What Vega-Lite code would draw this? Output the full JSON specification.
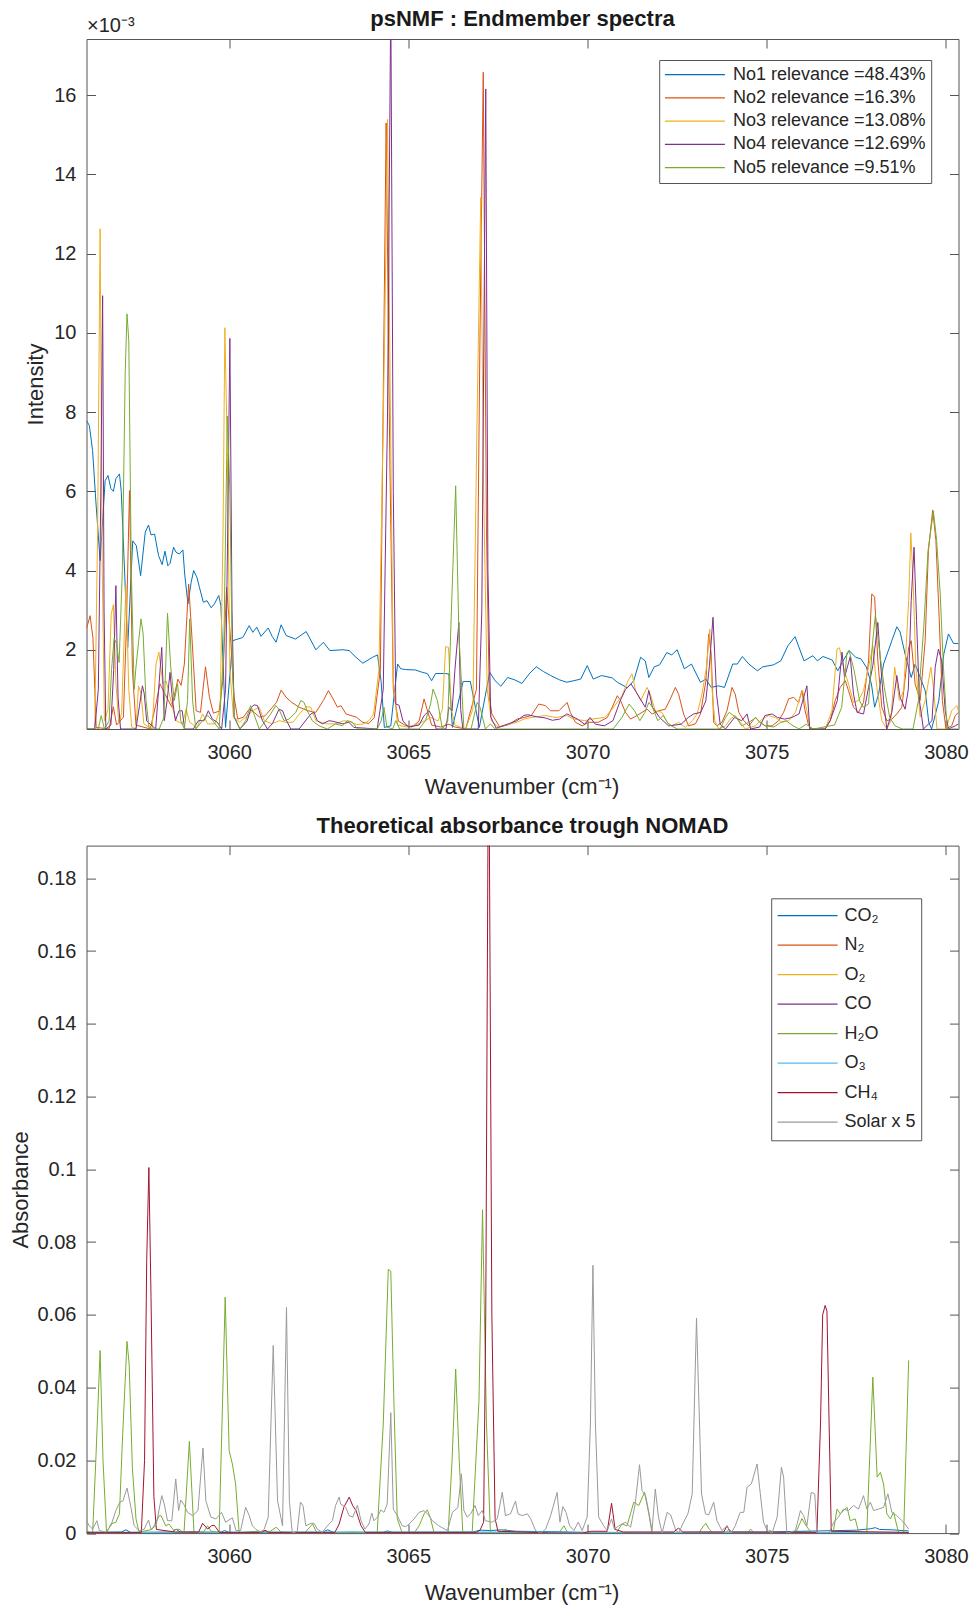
{
  "$schema": "https://vega.github.io/schema/vega-lite/v6.json",
  "background": "white",
  "padding": {"left": 8.5, "top": 7, "right": 4, "bottom": 2},
  "spacing": 16.6,
  "config": {
    "font": "Liberation Sans",
    "view": {"stroke": "#555555", "strokeWidth": 1},
    "axis": {
      "grid": false,
      "domain": false,
      "ticks": true,
      "tickColor": "#555555",
      "tickSize": -9,
      "tickWidth": 1,
      "labelFont": "Liberation Sans",
      "labelFontSize": 20,
      "labelColor": "#262626",
      "labelFlush": false,
      "labelOverlap": false,
      "titleFont": "Liberation Sans",
      "titleFontSize": 22,
      "titleFontWeight": "normal",
      "titleColor": "#262626"
    },
    "legend": {
      "orient": "none",
      "symbolType": "stroke",
      "symbolSize": 3600,
      "symbolStrokeWidth": 1.2,
      "labelFont": "Liberation Sans",
      "labelFontSize": 18,
      "labelColor": "#262626",
      "labelLimit": 400,
      "strokeColor": "#555555",
      "fillColor": "white"
    },
    "title": {"font": "Liberation Sans", "fontSize": 22, "fontWeight": "bold", "color": "#1a1a1a", "frame": "group", "anchor": "middle", "baseline": "alphabetic"}
  },
  "datasets": {
    "endmembers": [
      {"k":1,"w":3056.02,"v":7.79},{"k":1,"w":3056.10,"v":7.66},{"k":1,"w":3056.19,"v":7.03},{"k":1,"w":3056.28,"v":5.76},{"k":1,"w":3056.40,"v":4.25},{"k":1,"w":3056.54,"v":6.27},{"k":1,"w":3056.62,"v":6.40},{"k":1,"w":3056.70,"v":6.07},{"k":1,"w":3056.77,"v":6.00},{"k":1,"w":3056.84,"v":6.32},{"k":1,"w":3056.94,"v":6.44},{"k":1,"w":3056.99,"v":6.00},{"k":1,"w":3057.17,"v":2.06},{"k":1,"w":3057.31,"v":4.75},{"k":1,"w":3057.41,"v":4.63},{"k":1,"w":3057.53,"v":3.87},{"k":1,"w":3057.66,"v":4.97},{"k":1,"w":3057.75,"v":5.15},{"k":1,"w":3057.82,"v":4.90},{"k":1,"w":3057.92,"v":4.92},{"k":1,"w":3058.03,"v":4.38},{"k":1,"w":3058.13,"v":4.15},{"k":1,"w":3058.21,"v":4.49},{"k":1,"w":3058.29,"v":4.12},{"k":1,"w":3058.35,"v":4.18},{"k":1,"w":3058.45,"v":4.59},{"k":1,"w":3058.52,"v":4.46},{"k":1,"w":3058.61,"v":4.42},{"k":1,"w":3058.71,"v":4.52},{"k":1,"w":3058.76,"v":3.91},{"k":1,"w":3058.85,"v":3.16},{"k":1,"w":3058.94,"v":3.70},{"k":1,"w":3059.01,"v":4.00},{"k":1,"w":3059.10,"v":3.83},{"k":1,"w":3059.17,"v":3.58},{"k":1,"w":3059.28,"v":3.20},{"k":1,"w":3059.38,"v":3.24},{"k":1,"w":3059.50,"v":3.06},{"k":1,"w":3059.59,"v":3.16},{"k":1,"w":3059.71,"v":3.37},{"k":1,"w":3059.77,"v":3.11},{"k":1,"w":3059.90,"v":0.04},{"k":1,"w":3060.10,"v":2.23},{"k":1,"w":3060.24,"v":2.27},{"k":1,"w":3060.38,"v":2.31},{"k":1,"w":3060.56,"v":2.61},{"k":1,"w":3060.66,"v":2.44},{"k":1,"w":3060.77,"v":2.57},{"k":1,"w":3060.89,"v":2.34},{"k":1,"w":3061.09,"v":2.55},{"k":1,"w":3061.20,"v":2.34},{"k":1,"w":3061.31,"v":2.19},{"k":1,"w":3061.45,"v":2.63},{"k":1,"w":3061.59,"v":2.36},{"k":1,"w":3061.85,"v":2.27},{"k":1,"w":3062.15,"v":2.46},{"k":1,"w":3062.42,"v":2.00},{"k":1,"w":3062.63,"v":2.19},{"k":1,"w":3062.81,"v":1.98},{"k":1,"w":3063.17,"v":2.00},{"k":1,"w":3063.35,"v":1.98},{"k":1,"w":3063.54,"v":1.81},{"k":1,"w":3063.73,"v":1.66},{"k":1,"w":3064.00,"v":1.81},{"k":1,"w":3064.14,"v":1.87},{"k":1,"w":3064.24,"v":1.20},{"k":1,"w":3064.33,"v":0.04},{"k":1,"w":3064.51,"v":0.08},{"k":1,"w":3064.70,"v":1.64},{"k":1,"w":3064.79,"v":1.52},{"k":1,"w":3064.93,"v":1.50},{"k":1,"w":3065.20,"v":1.49},{"k":1,"w":3065.39,"v":1.43},{"k":1,"w":3065.53,"v":1.40},{"k":1,"w":3065.65,"v":1.22},{"k":1,"w":3065.76,"v":1.40},{"k":1,"w":3066.03,"v":1.40},{"k":1,"w":3066.13,"v":1.39},{"k":1,"w":3066.23,"v":0.04},{"k":1,"w":3066.53,"v":1.20},{"k":1,"w":3066.73,"v":1.20},{"k":1,"w":3066.98,"v":0.04},{"k":1,"w":3067.27,"v":1.43},{"k":1,"w":3067.42,"v":1.22},{"k":1,"w":3067.58,"v":1.08},{"k":1,"w":3067.77,"v":1.30},{"k":1,"w":3067.97,"v":1.24},{"k":1,"w":3068.17,"v":1.15},{"k":1,"w":3068.37,"v":1.39},{"k":1,"w":3068.57,"v":1.57},{"k":1,"w":3068.77,"v":1.45},{"k":1,"w":3068.97,"v":1.35},{"k":1,"w":3069.22,"v":1.24},{"k":1,"w":3069.42,"v":1.18},{"k":1,"w":3069.62,"v":1.22},{"k":1,"w":3069.81,"v":1.26},{"k":1,"w":3069.99,"v":1.60},{"k":1,"w":3070.16,"v":1.26},{"k":1,"w":3070.39,"v":1.35},{"k":1,"w":3070.69,"v":1.29},{"k":1,"w":3070.83,"v":1.18},{"k":1,"w":3071.11,"v":1.04},{"k":1,"w":3071.29,"v":1.22},{"k":1,"w":3071.48,"v":1.81},{"k":1,"w":3071.61,"v":1.72},{"k":1,"w":3071.71,"v":1.30},{"k":1,"w":3071.86,"v":1.57},{"k":1,"w":3072.01,"v":1.62},{"k":1,"w":3072.21,"v":1.93},{"k":1,"w":3072.35,"v":1.87},{"k":1,"w":3072.50,"v":2.00},{"k":1,"w":3072.70,"v":1.52},{"k":1,"w":3072.90,"v":1.64},{"k":1,"w":3073.15,"v":1.18},{"k":1,"w":3073.30,"v":1.26},{"k":1,"w":3073.45,"v":1.05},{"k":1,"w":3073.65,"v":1.09},{"k":1,"w":3073.82,"v":1.05},{"k":1,"w":3074.05,"v":1.64},{"k":1,"w":3074.18,"v":1.64},{"k":1,"w":3074.32,"v":1.83},{"k":1,"w":3074.50,"v":1.64},{"k":1,"w":3074.74,"v":1.47},{"k":1,"w":3074.89,"v":1.57},{"k":1,"w":3075.19,"v":1.62},{"k":1,"w":3075.39,"v":1.72},{"k":1,"w":3075.59,"v":2.10},{"k":1,"w":3075.79,"v":2.33},{"k":1,"w":3076.04,"v":1.72},{"k":1,"w":3076.29,"v":1.85},{"k":1,"w":3076.41,"v":1.72},{"k":1,"w":3076.57,"v":1.83},{"k":1,"w":3076.83,"v":1.74},{"k":1,"w":3076.98,"v":1.47},{"k":1,"w":3077.13,"v":1.72},{"k":1,"w":3077.30,"v":1.98},{"k":1,"w":3077.48,"v":1.81},{"k":1,"w":3077.63,"v":1.77},{"k":1,"w":3077.78,"v":1.56},{"k":1,"w":3077.92,"v":1.14},{"k":1,"w":3078.01,"v":0.55},{"k":1,"w":3078.12,"v":0.88},{"k":1,"w":3078.26,"v":1.64},{"k":1,"w":3078.49,"v":2.23},{"k":1,"w":3078.63,"v":2.58},{"k":1,"w":3078.72,"v":2.45},{"k":1,"w":3078.86,"v":1.89},{"k":1,"w":3079.03,"v":1.30},{"k":1,"w":3079.14,"v":1.64},{"k":1,"w":3079.42,"v":0.97},{"k":1,"w":3079.52,"v":0.17},{"k":1,"w":3079.60,"v":0.00},{"k":1,"w":3079.80,"v":0.71},{"k":1,"w":3079.94,"v":1.89},{"k":1,"w":3080.07,"v":2.40},{"k":1,"w":3080.21,"v":2.16},{"k":1,"w":3080.35,"v":2.16},

      {"k":2,"w":3056.02,"v":2.53},{"k":2,"w":3056.12,"v":2.86},{"k":2,"w":3056.20,"v":2.30},{"k":2,"w":3056.29,"v":0.04},{"k":2,"w":3056.65,"v":0.00},{"k":2,"w":3056.77,"v":0.56},{"k":2,"w":3056.86,"v":0.10},{"k":2,"w":3057.05,"v":0.30},{"k":2,"w":3057.13,"v":2.50},{"k":2,"w":3057.22,"v":6.02},{"k":2,"w":3057.30,"v":1.50},{"k":2,"w":3057.40,"v":0.10},{"k":2,"w":3057.80,"v":0.00},{"k":2,"w":3057.95,"v":0.60},{"k":2,"w":3058.07,"v":1.14},{"k":2,"w":3058.20,"v":0.90},{"k":2,"w":3058.40,"v":0.55},{"k":2,"w":3058.57,"v":1.26},{"k":2,"w":3058.66,"v":1.10},{"k":2,"w":3058.75,"v":1.64},{"k":2,"w":3058.87,"v":3.66},{"k":2,"w":3058.95,"v":2.50},{"k":2,"w":3059.08,"v":0.46},{"k":2,"w":3059.20,"v":0.42},{"k":2,"w":3059.34,"v":1.57},{"k":2,"w":3059.45,"v":0.80},{"k":2,"w":3059.56,"v":0.40},{"k":2,"w":3059.72,"v":0.45},{"k":2,"w":3059.82,"v":1.20},{"k":2,"w":3059.93,"v":3.58},{"k":2,"w":3060.05,"v":2.15},{"k":2,"w":3060.14,"v":0.80},{"k":2,"w":3060.24,"v":0.25},{"k":2,"w":3060.40,"v":0.30},{"k":2,"w":3060.56,"v":0.50},{"k":2,"w":3060.70,"v":0.42},{"k":2,"w":3060.85,"v":0.30},{"k":2,"w":3061.00,"v":0.33},{"k":2,"w":3061.21,"v":0.55},{"k":2,"w":3061.32,"v":0.67},{"k":2,"w":3061.45,"v":0.98},{"k":2,"w":3061.59,"v":0.80},{"k":2,"w":3061.75,"v":0.67},{"k":2,"w":3061.95,"v":0.55},{"k":2,"w":3062.20,"v":0.46},{"k":2,"w":3062.42,"v":0.42},{"k":2,"w":3062.63,"v":0.72},{"k":2,"w":3062.77,"v":0.97},{"k":2,"w":3062.90,"v":0.76},{"k":2,"w":3063.02,"v":0.55},{"k":2,"w":3063.12,"v":0.59},{"k":2,"w":3063.26,"v":0.38},{"k":2,"w":3063.40,"v":0.34},{"k":2,"w":3063.55,"v":0.30},{"k":2,"w":3063.72,"v":0.17},{"k":2,"w":3063.90,"v":0.14},{"k":2,"w":3064.05,"v":0.29},{"k":2,"w":3064.22,"v":1.50},{"k":2,"w":3064.38,"v":15.30},{"k":2,"w":3064.48,"v":7.00},{"k":2,"w":3064.58,"v":1.00},{"k":2,"w":3064.72,"v":0.20},{"k":2,"w":3064.90,"v":0.10},{"k":2,"w":3065.10,"v":0.05},{"k":2,"w":3065.30,"v":0.20},{"k":2,"w":3065.44,"v":0.76},{"k":2,"w":3065.52,"v":0.50},{"k":2,"w":3065.65,"v":0.10},{"k":2,"w":3065.90,"v":0.05},{"k":2,"w":3066.13,"v":0.12},{"k":2,"w":3066.30,"v":0.05},{"k":2,"w":3066.60,"v":0.00},{"k":2,"w":3066.90,"v":1.00},{"k":2,"w":3067.00,"v":10.00},{"k":2,"w":3067.09,"v":16.58},{"k":2,"w":3067.18,"v":5.00},{"k":2,"w":3067.26,"v":0.80},{"k":2,"w":3067.33,"v":0.38},{"k":2,"w":3067.55,"v":0.05},{"k":2,"w":3067.83,"v":0.12},{"k":2,"w":3068.03,"v":0.25},{"k":2,"w":3068.22,"v":0.29},{"k":2,"w":3068.43,"v":0.34},{"k":2,"w":3068.64,"v":0.63},{"k":2,"w":3068.82,"v":0.59},{"k":2,"w":3068.97,"v":0.46},{"k":2,"w":3069.20,"v":0.46},{"k":2,"w":3069.43,"v":0.67},{"k":2,"w":3069.52,"v":0.42},{"k":2,"w":3069.66,"v":0.17},{"k":2,"w":3069.85,"v":0.08},{"k":2,"w":3070.03,"v":0.17},{"k":2,"w":3070.30,"v":0.17},{"k":2,"w":3070.55,"v":0.29},{"k":2,"w":3070.69,"v":0.55},{"k":2,"w":3070.83,"v":0.84},{"k":2,"w":3070.92,"v":0.72},{"k":2,"w":3071.06,"v":0.42},{"k":2,"w":3071.20,"v":0.25},{"k":2,"w":3071.38,"v":0.34},{"k":2,"w":3071.66,"v":0.50},{"k":2,"w":3071.80,"v":0.38},{"k":2,"w":3071.99,"v":0.46},{"k":2,"w":3072.17,"v":0.50},{"k":2,"w":3072.31,"v":0.76},{"k":2,"w":3072.45,"v":1.05},{"k":2,"w":3072.54,"v":0.88},{"k":2,"w":3072.68,"v":0.38},{"k":2,"w":3072.82,"v":0.08},{"k":2,"w":3073.01,"v":0.13},{"k":2,"w":3073.15,"v":0.38},{"k":2,"w":3073.30,"v":1.20},{"k":2,"w":3073.38,"v":2.40},{"k":2,"w":3073.45,"v":1.90},{"k":2,"w":3073.52,"v":0.17},{"k":2,"w":3073.61,"v":0.08},{"k":2,"w":3073.75,"v":0.17},{"k":2,"w":3073.89,"v":0.46},{"k":2,"w":3074.03,"v":1.05},{"k":2,"w":3074.12,"v":0.88},{"k":2,"w":3074.22,"v":0.42},{"k":2,"w":3074.36,"v":0.21},{"k":2,"w":3074.50,"v":0.08},{"k":2,"w":3074.68,"v":0.29},{"k":2,"w":3074.82,"v":0.17},{"k":2,"w":3074.96,"v":0.08},{"k":2,"w":3075.15,"v":0.08},{"k":2,"w":3075.33,"v":0.21},{"k":2,"w":3075.47,"v":0.42},{"k":2,"w":3075.61,"v":0.76},{"k":2,"w":3075.75,"v":0.80},{"k":2,"w":3075.89,"v":0.67},{"k":2,"w":3075.98,"v":0.97},{"k":2,"w":3076.07,"v":0.46},{"k":2,"w":3076.17,"v":0.08},{"k":2,"w":3076.26,"v":0.00},{"k":2,"w":3076.63,"v":0.00},{"k":2,"w":3076.77,"v":0.21},{"k":2,"w":3076.91,"v":0.72},{"k":2,"w":3077.05,"v":1.05},{"k":2,"w":3077.19,"v":1.22},{"k":2,"w":3077.28,"v":0.97},{"k":2,"w":3077.42,"v":0.55},{"k":2,"w":3077.56,"v":0.42},{"k":2,"w":3077.70,"v":0.67},{"k":2,"w":3077.84,"v":1.72},{"k":2,"w":3077.93,"v":3.41},{"k":2,"w":3078.01,"v":3.33},{"k":2,"w":3078.10,"v":1.72},{"k":2,"w":3078.21,"v":0.55},{"k":2,"w":3078.35,"v":0.21},{"k":2,"w":3078.49,"v":0.25},{"k":2,"w":3078.63,"v":0.38},{"k":2,"w":3078.77,"v":0.55},{"k":2,"w":3078.96,"v":2.06},{"k":2,"w":3079.03,"v":2.23},{"k":2,"w":3079.14,"v":1.14},{"k":2,"w":3079.28,"v":0.72},{"k":2,"w":3079.42,"v":2.23},{"k":2,"w":3079.51,"v":4.50},{"k":2,"w":3079.63,"v":5.53},{"k":2,"w":3079.72,"v":4.76},{"k":2,"w":3079.81,"v":2.82},{"k":2,"w":3079.90,"v":0.72},{"k":2,"w":3080.00,"v":0.00},{"k":2,"w":3080.16,"v":0.08},{"k":2,"w":3080.26,"v":0.34},{"k":2,"w":3080.35,"v":0.42},

      {"k":3,"w":3056.02,"v":0.00},{"k":3,"w":3056.25,"v":0.00},{"k":3,"w":3056.33,"v":5.00},{"k":3,"w":3056.40,"v":12.63},{"k":3,"w":3056.46,"v":4.00},{"k":3,"w":3056.52,"v":0.20},{"k":3,"w":3056.62,"v":0.50},{"k":3,"w":3056.71,"v":2.90},{"k":3,"w":3056.77,"v":3.14},{"k":3,"w":3056.84,"v":1.20},{"k":3,"w":3056.92,"v":0.13},{"k":3,"w":3057.00,"v":0.40},{"k":3,"w":3057.12,"v":3.62},{"k":3,"w":3057.20,"v":1.00},{"k":3,"w":3057.28,"v":0.05},{"k":3,"w":3057.40,"v":0.00},{"k":3,"w":3057.47,"v":1.09},{"k":3,"w":3057.54,"v":0.90},{"k":3,"w":3057.62,"v":0.13},{"k":3,"w":3057.85,"v":0.00},{"k":3,"w":3057.96,"v":1.64},{"k":3,"w":3058.04,"v":1.94},{"k":3,"w":3058.15,"v":1.14},{"k":3,"w":3058.24,"v":1.22},{"k":3,"w":3058.33,"v":0.89},{"k":3,"w":3058.43,"v":0.50},{"k":3,"w":3058.52,"v":0.21},{"k":3,"w":3058.70,"v":0.13},{"k":3,"w":3058.80,"v":0.50},{"k":3,"w":3058.90,"v":0.17},{"k":3,"w":3059.10,"v":0.04},{"k":3,"w":3059.26,"v":0.38},{"k":3,"w":3059.40,"v":0.13},{"k":3,"w":3059.60,"v":0.13},{"k":3,"w":3059.75,"v":0.50},{"k":3,"w":3059.83,"v":5.00},{"k":3,"w":3059.88,"v":10.13},{"k":3,"w":3059.95,"v":7.00},{"k":3,"w":3060.02,"v":1.50},{"k":3,"w":3060.12,"v":0.30},{"k":3,"w":3060.29,"v":0.17},{"k":3,"w":3060.45,"v":0.29},{"k":3,"w":3060.66,"v":0.46},{"k":3,"w":3060.84,"v":0.55},{"k":3,"w":3060.98,"v":0.21},{"k":3,"w":3061.20,"v":0.13},{"k":3,"w":3061.40,"v":0.21},{"k":3,"w":3061.58,"v":0.17},{"k":3,"w":3061.78,"v":0.17},{"k":3,"w":3061.96,"v":0.38},{"k":3,"w":3062.14,"v":0.56},{"k":3,"w":3062.28,"v":0.55},{"k":3,"w":3062.42,"v":0.21},{"k":3,"w":3062.70,"v":0.13},{"k":3,"w":3062.98,"v":0.13},{"k":3,"w":3063.20,"v":0.21},{"k":3,"w":3063.35,"v":0.19},{"k":3,"w":3063.55,"v":0.11},{"k":3,"w":3063.75,"v":0.13},{"k":3,"w":3063.90,"v":0.21},{"k":3,"w":3064.03,"v":0.38},{"k":3,"w":3064.18,"v":1.50},{"k":3,"w":3064.34,"v":10.00},{"k":3,"w":3064.42,"v":15.39},{"k":3,"w":3064.50,"v":8.00},{"k":3,"w":3064.58,"v":1.20},{"k":3,"w":3064.70,"v":0.10},{"k":3,"w":3064.95,"v":0.05},{"k":3,"w":3065.20,"v":0.10},{"k":3,"w":3065.44,"v":0.20},{"k":3,"w":3065.63,"v":0.29},{"k":3,"w":3065.83,"v":0.20},{"k":3,"w":3065.95,"v":0.50},{"k":3,"w":3066.04,"v":2.08},{"k":3,"w":3066.12,"v":2.06},{"k":3,"w":3066.20,"v":0.50},{"k":3,"w":3066.30,"v":0.10},{"k":3,"w":3066.60,"v":0.00},{"k":3,"w":3066.80,"v":0.50},{"k":3,"w":3066.92,"v":8.00},{"k":3,"w":3067.02,"v":13.42},{"k":3,"w":3067.10,"v":6.00},{"k":3,"w":3067.20,"v":1.00},{"k":3,"w":3067.32,"v":0.20},{"k":3,"w":3067.50,"v":0.05},{"k":3,"w":3067.73,"v":0.10},{"k":3,"w":3068.03,"v":0.17},{"k":3,"w":3068.22,"v":0.25},{"k":3,"w":3068.43,"v":0.29},{"k":3,"w":3068.82,"v":0.34},{"k":3,"w":3069.12,"v":0.29},{"k":3,"w":3069.42,"v":0.34},{"k":3,"w":3069.62,"v":0.25},{"k":3,"w":3069.92,"v":0.21},{"k":3,"w":3070.12,"v":0.25},{"k":3,"w":3070.47,"v":0.29},{"k":3,"w":3070.69,"v":0.50},{"k":3,"w":3070.96,"v":0.84},{"k":3,"w":3071.13,"v":1.22},{"k":3,"w":3071.24,"v":1.39},{"k":3,"w":3071.34,"v":0.97},{"k":3,"w":3071.48,"v":0.72},{"k":3,"w":3071.66,"v":1.05},{"k":3,"w":3071.75,"v":0.88},{"k":3,"w":3071.89,"v":0.46},{"k":3,"w":3072.08,"v":0.42},{"k":3,"w":3072.22,"v":0.17},{"k":3,"w":3072.36,"v":0.08},{"k":3,"w":3072.54,"v":0.17},{"k":3,"w":3072.73,"v":0.04},{"k":3,"w":3072.92,"v":0.21},{"k":3,"w":3073.06,"v":0.38},{"k":3,"w":3073.19,"v":0.88},{"k":3,"w":3073.32,"v":1.56},{"k":3,"w":3073.41,"v":2.52},{"k":3,"w":3073.47,"v":1.05},{"k":3,"w":3073.55,"v":0.21},{"k":3,"w":3073.66,"v":0.00},{"k":3,"w":3073.85,"v":0.08},{"k":3,"w":3073.98,"v":0.25},{"k":3,"w":3074.12,"v":0.34},{"k":3,"w":3074.26,"v":0.17},{"k":3,"w":3074.40,"v":0.00},{"k":3,"w":3074.68,"v":0.08},{"k":3,"w":3074.87,"v":0.25},{"k":3,"w":3075.05,"v":0.34},{"k":3,"w":3075.24,"v":0.29},{"k":3,"w":3075.43,"v":0.17},{"k":3,"w":3075.61,"v":0.21},{"k":3,"w":3075.80,"v":0.42},{"k":3,"w":3075.91,"v":0.76},{"k":3,"w":3076.00,"v":0.97},{"k":3,"w":3076.12,"v":0.46},{"k":3,"w":3076.21,"v":0.00},{"k":3,"w":3076.63,"v":0.00},{"k":3,"w":3076.82,"v":0.46},{"k":3,"w":3076.96,"v":2.02},{"k":3,"w":3077.03,"v":2.05},{"k":3,"w":3077.14,"v":1.56},{"k":3,"w":3077.28,"v":1.14},{"k":3,"w":3077.42,"v":0.67},{"k":3,"w":3077.56,"v":0.72},{"k":3,"w":3077.70,"v":0.97},{"k":3,"w":3077.84,"v":1.56},{"k":3,"w":3077.96,"v":2.10},{"k":3,"w":3078.07,"v":1.05},{"k":3,"w":3078.21,"v":0.21},{"k":3,"w":3078.35,"v":0.00},{"k":3,"w":3078.46,"v":0.20},{"k":3,"w":3078.57,"v":1.56},{"k":3,"w":3078.70,"v":0.72},{"k":3,"w":3078.82,"v":0.97},{"k":3,"w":3078.96,"v":3.24},{"k":3,"w":3079.02,"v":4.95},{"k":3,"w":3079.09,"v":3.58},{"k":3,"w":3079.16,"v":1.56},{"k":3,"w":3079.28,"v":0.30},{"k":3,"w":3079.42,"v":0.72},{"k":3,"w":3079.58,"v":1.56},{"k":3,"w":3079.65,"v":1.05},{"k":3,"w":3079.75,"v":0.00},{"k":3,"w":3080.00,"v":0.00},{"k":3,"w":3080.16,"v":0.46},{"k":3,"w":3080.30,"v":0.59},{"k":3,"w":3080.35,"v":0.46},

      {"k":4,"w":3056.02,"v":0.00},{"k":4,"w":3056.25,"v":0.00},{"k":4,"w":3056.35,"v":1.00},{"k":4,"w":3056.42,"v":6.00},{"k":4,"w":3056.47,"v":10.94},{"k":4,"w":3056.51,"v":3.00},{"k":4,"w":3056.56,"v":0.00},{"k":4,"w":3056.70,"v":0.10},{"k":4,"w":3056.78,"v":1.50},{"k":4,"w":3056.84,"v":3.62},{"k":4,"w":3056.90,"v":0.80},{"k":4,"w":3056.97,"v":0.00},{"k":4,"w":3057.40,"v":0.00},{"k":4,"w":3057.50,"v":0.60},{"k":4,"w":3057.58,"v":1.09},{"k":4,"w":3057.63,"v":0.90},{"k":4,"w":3057.70,"v":0.20},{"k":4,"w":3057.95,"v":0.00},{"k":4,"w":3058.12,"v":2.06},{"k":4,"w":3058.19,"v":0.21},{"k":4,"w":3058.27,"v":0.72},{"k":4,"w":3058.35,"v":1.43},{"k":4,"w":3058.42,"v":0.72},{"k":4,"w":3058.50,"v":0.21},{"k":4,"w":3058.60,"v":0.46},{"k":4,"w":3058.69,"v":0.46},{"k":4,"w":3058.76,"v":0.00},{"k":4,"w":3059.00,"v":0.00},{"k":4,"w":3059.14,"v":0.21},{"k":4,"w":3059.30,"v":0.21},{"k":4,"w":3059.42,"v":0.46},{"k":4,"w":3059.53,"v":0.25},{"k":4,"w":3059.67,"v":0.17},{"k":4,"w":3059.79,"v":0.00},{"k":4,"w":3059.90,"v":1.00},{"k":4,"w":3059.96,"v":5.00},{"k":4,"w":3060.02,"v":9.86},{"k":4,"w":3060.08,"v":3.00},{"k":4,"w":3060.14,"v":0.30},{"k":4,"w":3060.30,"v":0.00},{"k":4,"w":3060.50,"v":0.20},{"k":4,"w":3060.62,"v":0.55},{"k":4,"w":3060.70,"v":0.61},{"k":4,"w":3060.79,"v":0.59},{"k":4,"w":3060.93,"v":0.21},{"k":4,"w":3061.07,"v":0.00},{"k":4,"w":3061.21,"v":0.14},{"k":4,"w":3061.39,"v":0.50},{"k":4,"w":3061.49,"v":0.46},{"k":4,"w":3061.58,"v":0.25},{"k":4,"w":3061.72,"v":0.00},{"k":4,"w":3061.95,"v":0.00},{"k":4,"w":3062.28,"v":0.38},{"k":4,"w":3062.37,"v":0.42},{"k":4,"w":3062.46,"v":0.21},{"k":4,"w":3062.60,"v":0.13},{"k":4,"w":3062.79,"v":0.21},{"k":4,"w":3062.92,"v":0.19},{"k":4,"w":3063.16,"v":0.13},{"k":4,"w":3063.34,"v":0.17},{"k":4,"w":3063.48,"v":0.04},{"k":4,"w":3064.13,"v":0.00},{"k":4,"w":3064.30,"v":1.00},{"k":4,"w":3064.42,"v":8.00},{"k":4,"w":3064.51,"v":18.50},{"k":4,"w":3064.58,"v":6.00},{"k":4,"w":3064.65,"v":0.63},{"k":4,"w":3064.74,"v":0.60},{"k":4,"w":3064.85,"v":0.20},{"k":4,"w":3065.00,"v":0.05},{"k":4,"w":3065.30,"v":0.10},{"k":4,"w":3065.44,"v":0.34},{"k":4,"w":3065.58,"v":0.46},{"k":4,"w":3065.68,"v":0.30},{"k":4,"w":3065.78,"v":0.00},{"k":4,"w":3066.05,"v":0.00},{"k":4,"w":3066.13,"v":0.55},{"k":4,"w":3066.22,"v":0.46},{"k":4,"w":3066.30,"v":1.50},{"k":4,"w":3066.41,"v":2.69},{"k":4,"w":3066.46,"v":0.50},{"k":4,"w":3066.52,"v":0.00},{"k":4,"w":3066.95,"v":0.00},{"k":4,"w":3067.05,"v":3.00},{"k":4,"w":3067.16,"v":16.16},{"k":4,"w":3067.22,"v":4.00},{"k":4,"w":3067.30,"v":0.30},{"k":4,"w":3067.45,"v":0.02},{"k":4,"w":3068.03,"v":0.21},{"k":4,"w":3068.22,"v":0.34},{"k":4,"w":3068.33,"v":0.36},{"k":4,"w":3068.57,"v":0.31},{"k":4,"w":3068.82,"v":0.28},{"k":4,"w":3069.02,"v":0.22},{"k":4,"w":3069.22,"v":0.25},{"k":4,"w":3069.42,"v":0.38},{"k":4,"w":3069.52,"v":0.34},{"k":4,"w":3069.72,"v":0.25},{"k":4,"w":3069.92,"v":0.12},{"k":4,"w":3070.07,"v":0.29},{"k":4,"w":3070.22,"v":0.12},{"k":4,"w":3070.47,"v":0.08},{"k":4,"w":3070.71,"v":0.21},{"k":4,"w":3070.91,"v":0.71},{"k":4,"w":3071.06,"v":1.00},{"k":4,"w":3071.21,"v":1.14},{"k":4,"w":3071.36,"v":0.93},{"k":4,"w":3071.61,"v":0.55},{"k":4,"w":3071.71,"v":0.97},{"k":4,"w":3071.81,"v":0.55},{"k":4,"w":3072.01,"v":0.29},{"k":4,"w":3072.26,"v":0.08},{"k":4,"w":3072.61,"v":0.12},{"k":4,"w":3072.81,"v":0.29},{"k":4,"w":3072.96,"v":0.38},{"k":4,"w":3073.16,"v":0.42},{"k":4,"w":3073.30,"v":0.71},{"k":4,"w":3073.40,"v":1.60},{"k":4,"w":3073.50,"v":2.82},{"k":4,"w":3073.60,"v":0.88},{"k":4,"w":3073.70,"v":0.12},{"k":4,"w":3073.85,"v":0.00},{"k":4,"w":3074.10,"v":0.29},{"k":4,"w":3074.30,"v":0.21},{"k":4,"w":3074.45,"v":0.38},{"k":4,"w":3074.55,"v":0.00},{"k":4,"w":3074.80,"v":0.05},{"k":4,"w":3074.95,"v":0.34},{"k":4,"w":3075.15,"v":0.38},{"k":4,"w":3075.30,"v":0.29},{"k":4,"w":3075.50,"v":0.25},{"k":4,"w":3075.70,"v":0.29},{"k":4,"w":3075.90,"v":0.38},{"k":4,"w":3076.00,"v":0.70},{"k":4,"w":3076.12,"v":1.09},{"k":4,"w":3076.20,"v":0.00},{"k":4,"w":3076.63,"v":0.00},{"k":4,"w":3076.77,"v":0.21},{"k":4,"w":3076.97,"v":0.72},{"k":4,"w":3077.10,"v":1.94},{"k":4,"w":3077.17,"v":1.30},{"k":4,"w":3077.26,"v":1.60},{"k":4,"w":3077.33,"v":1.83},{"k":4,"w":3077.42,"v":0.88},{"k":4,"w":3077.52,"v":0.42},{"k":4,"w":3077.70,"v":0.38},{"k":4,"w":3077.84,"v":1.05},{"k":4,"w":3077.96,"v":1.60},{"k":4,"w":3078.10,"v":2.69},{"k":4,"w":3078.17,"v":1.72},{"k":4,"w":3078.26,"v":0.72},{"k":4,"w":3078.35,"v":0.00},{"k":4,"w":3078.49,"v":0.42},{"k":4,"w":3078.63,"v":1.35},{"k":4,"w":3078.72,"v":0.80},{"k":4,"w":3078.86,"v":0.50},{"k":4,"w":3078.95,"v":1.00},{"k":4,"w":3079.03,"v":3.24},{"k":4,"w":3079.11,"v":4.59},{"k":4,"w":3079.18,"v":2.74},{"k":4,"w":3079.26,"v":0.72},{"k":4,"w":3079.37,"v":0.00},{"k":4,"w":3079.61,"v":0.21},{"k":4,"w":3079.70,"v":1.56},{"k":4,"w":3079.79,"v":2.02},{"k":4,"w":3079.88,"v":1.72},{"k":4,"w":3079.98,"v":0.46},{"k":4,"w":3080.07,"v":0.00},{"k":4,"w":3080.26,"v":0.08},{"k":4,"w":3080.35,"v":0.13},

      {"k":5,"w":3056.02,"v":0.00},{"k":5,"w":3056.35,"v":0.00},{"k":5,"w":3056.43,"v":0.34},{"k":5,"w":3056.52,"v":0.00},{"k":5,"w":3056.65,"v":0.20},{"k":5,"w":3056.72,"v":1.50},{"k":5,"w":3056.79,"v":2.30},{"k":5,"w":3056.86,"v":2.15},{"k":5,"w":3056.93,"v":1.68},{"k":5,"w":3057.02,"v":4.00},{"k":5,"w":3057.10,"v":9.00},{"k":5,"w":3057.15,"v":10.48},{"k":5,"w":3057.20,"v":9.80},{"k":5,"w":3057.27,"v":4.00},{"k":5,"w":3057.35,"v":1.00},{"k":5,"w":3057.40,"v":1.56},{"k":5,"w":3057.54,"v":2.78},{"k":5,"w":3057.60,"v":2.40},{"k":5,"w":3057.68,"v":0.72},{"k":5,"w":3057.77,"v":0.00},{"k":5,"w":3058.05,"v":0.00},{"k":5,"w":3058.18,"v":0.30},{"k":5,"w":3058.28,"v":2.92},{"k":5,"w":3058.37,"v":1.56},{"k":5,"w":3058.47,"v":0.72},{"k":5,"w":3058.56,"v":1.14},{"k":5,"w":3058.65,"v":0.21},{"k":5,"w":3058.75,"v":0.00},{"k":5,"w":3058.84,"v":0.72},{"k":5,"w":3058.90,"v":2.78},{"k":5,"w":3058.98,"v":0.72},{"k":5,"w":3059.07,"v":0.00},{"k":5,"w":3059.26,"v":0.21},{"k":5,"w":3059.40,"v":0.34},{"k":5,"w":3059.54,"v":0.21},{"k":5,"w":3059.72,"v":0.00},{"k":5,"w":3059.85,"v":2.00},{"k":5,"w":3059.95,"v":7.90},{"k":5,"w":3060.02,"v":6.00},{"k":5,"w":3060.09,"v":1.56},{"k":5,"w":3060.15,"v":0.30},{"k":5,"w":3060.30,"v":0.00},{"k":5,"w":3060.46,"v":0.21},{"k":5,"w":3060.60,"v":0.59},{"k":5,"w":3060.69,"v":0.38},{"k":5,"w":3060.84,"v":0.00},{"k":5,"w":3061.02,"v":0.21},{"k":5,"w":3061.16,"v":0.38},{"k":5,"w":3061.30,"v":0.59},{"k":5,"w":3061.39,"v":0.50},{"k":5,"w":3061.53,"v":0.21},{"k":5,"w":3061.67,"v":0.25},{"k":5,"w":3061.86,"v":0.42},{"k":5,"w":3062.00,"v":0.72},{"k":5,"w":3062.09,"v":0.67},{"k":5,"w":3062.18,"v":0.46},{"k":5,"w":3062.32,"v":0.21},{"k":5,"w":3062.51,"v":0.08},{"k":5,"w":3062.74,"v":0.00},{"k":5,"w":3062.97,"v":0.13},{"k":5,"w":3063.16,"v":0.08},{"k":5,"w":3063.30,"v":0.21},{"k":5,"w":3063.44,"v":0.17},{"k":5,"w":3063.58,"v":0.00},{"k":5,"w":3064.13,"v":0.00},{"k":5,"w":3064.24,"v":0.20},{"k":5,"w":3064.32,"v":0.55},{"k":5,"w":3064.40,"v":0.05},{"k":5,"w":3064.56,"v":0.00},{"k":5,"w":3064.65,"v":0.21},{"k":5,"w":3064.76,"v":0.00},{"k":5,"w":3065.30,"v":0.00},{"k":5,"w":3065.48,"v":0.21},{"k":5,"w":3065.62,"v":0.63},{"k":5,"w":3065.69,"v":1.01},{"k":5,"w":3065.81,"v":0.72},{"k":5,"w":3065.95,"v":0.00},{"k":5,"w":3066.10,"v":0.20},{"k":5,"w":3066.18,"v":2.40},{"k":5,"w":3066.32,"v":6.14},{"k":5,"w":3066.41,"v":2.40},{"k":5,"w":3066.55,"v":0.00},{"k":5,"w":3066.75,"v":0.00},{"k":5,"w":3066.92,"v":0.67},{"k":5,"w":3067.00,"v":0.55},{"k":5,"w":3067.15,"v":0.00},{"k":5,"w":3067.29,"v":0.13},{"k":5,"w":3067.42,"v":0.00},{"k":5,"w":3070.71,"v":0.00},{"k":5,"w":3070.96,"v":0.29},{"k":5,"w":3071.16,"v":0.63},{"k":5,"w":3071.31,"v":0.46},{"k":5,"w":3071.46,"v":0.21},{"k":5,"w":3071.60,"v":0.42},{"k":5,"w":3071.71,"v":0.67},{"k":5,"w":3071.81,"v":0.55},{"k":5,"w":3071.96,"v":0.21},{"k":5,"w":3072.11,"v":0.34},{"k":5,"w":3072.26,"v":0.12},{"k":5,"w":3072.50,"v":0.00},{"k":5,"w":3073.70,"v":0.00},{"k":5,"w":3073.85,"v":0.29},{"k":5,"w":3073.95,"v":0.42},{"k":5,"w":3074.15,"v":0.29},{"k":5,"w":3074.30,"v":0.08},{"k":5,"w":3074.50,"v":0.17},{"k":5,"w":3074.70,"v":0.29},{"k":5,"w":3074.80,"v":0.17},{"k":5,"w":3074.95,"v":0.08},{"k":5,"w":3075.20,"v":0.05},{"k":5,"w":3075.40,"v":0.17},{"k":5,"w":3075.54,"v":0.21},{"k":5,"w":3075.70,"v":0.10},{"k":5,"w":3075.90,"v":0.00},{"k":5,"w":3076.10,"v":0.12},{"k":5,"w":3076.30,"v":0.00},{"k":5,"w":3076.89,"v":0.10},{"k":5,"w":3077.09,"v":0.55},{"k":5,"w":3077.24,"v":1.93},{"k":5,"w":3077.30,"v":1.98},{"k":5,"w":3077.44,"v":1.47},{"k":5,"w":3077.59,"v":0.71},{"k":5,"w":3077.69,"v":0.55},{"k":5,"w":3077.84,"v":0.63},{"k":5,"w":3077.95,"v":2.15},{"k":5,"w":3078.03,"v":2.88},{"k":5,"w":3078.18,"v":1.72},{"k":5,"w":3078.28,"v":1.05},{"k":5,"w":3078.43,"v":0.29},{"k":5,"w":3078.58,"v":0.08},{"k":5,"w":3078.78,"v":0.00},{"k":5,"w":3079.08,"v":0.00},{"k":5,"w":3079.23,"v":0.71},{"k":5,"w":3079.38,"v":2.57},{"k":5,"w":3079.50,"v":4.50},{"k":5,"w":3079.65,"v":5.50},{"k":5,"w":3079.74,"v":4.76},{"k":5,"w":3079.84,"v":3.41},{"k":5,"w":3079.93,"v":1.56},{"k":5,"w":3080.03,"v":0.00},{"k":5,"w":3080.35,"v":0.00}
    ],
    "absorbance": [
      {"k":1,"w":3056.02,"v":0.0002},{"k":1,"w":3057.00,"v":0.0003},{"k":1,"w":3057.12,"v":0.0009},{"k":1,"w":3057.25,"v":0.0002},{"k":1,"w":3058.40,"v":0.0003},{"k":1,"w":3058.52,"v":0.0011},{"k":1,"w":3058.65,"v":0.0002},{"k":1,"w":3059.78,"v":0.0003},{"k":1,"w":3059.87,"v":0.0007},{"k":1,"w":3060.00,"v":0.0002},{"k":1,"w":3062.60,"v":0.0002},{"k":1,"w":3062.75,"v":0.0009},{"k":1,"w":3062.90,"v":0.0002},{"k":1,"w":3064.30,"v":0.0002},{"k":1,"w":3064.42,"v":0.0006},{"k":1,"w":3064.55,"v":0.0002},{"k":1,"w":3066.80,"v":0.0003},{"k":1,"w":3067.00,"v":0.0008},{"k":1,"w":3067.30,"v":0.0007},{"k":1,"w":3067.60,"v":0.0009},{"k":1,"w":3068.00,"v":0.0005},{"k":1,"w":3069.00,"v":0.0004},{"k":1,"w":3069.50,"v":0.0003},{"k":1,"w":3070.00,"v":0.0002},{"k":1,"w":3072.00,"v":0.0002},{"k":1,"w":3075.00,"v":0.0003},{"k":1,"w":3077.50,"v":0.0008},{"k":1,"w":3077.90,"v":0.0012},{"k":1,"w":3078.03,"v":0.0015},{"k":1,"w":3078.15,"v":0.0010},{"k":1,"w":3078.50,"v":0.0009},{"k":1,"w":3078.96,"v":0.0006},

      {"k":2,"w":3056.02,"v":0},{"k":2,"w":3078.96,"v":0},
      {"k":3,"w":3056.02,"v":0},{"k":3,"w":3078.96,"v":0},
      {"k":4,"w":3056.02,"v":0},{"k":4,"w":3078.96,"v":0},

      {"k":5,"w":3056.02,"v":0.0005},{"k":5,"w":3056.19,"v":0.0},{"k":5,"w":3056.28,"v":0.02},{"k":5,"w":3056.40,"v":0.0502},{"k":5,"w":3056.48,"v":0.02},{"k":5,"w":3056.58,"v":0.0},{"k":5,"w":3056.70,"v":0.0025},{"k":5,"w":3056.84,"v":0.003},{"k":5,"w":3056.94,"v":0.0053},{"k":5,"w":3057.02,"v":0.025},{"k":5,"w":3057.15,"v":0.0527},{"k":5,"w":3057.21,"v":0.0465},{"k":5,"w":3057.30,"v":0.018},{"k":5,"w":3057.40,"v":0.004},{"k":5,"w":3057.48,"v":0.0005},{"k":5,"w":3057.60,"v":0.0005},{"k":5,"w":3057.85,"v":0.001},{"k":5,"w":3058.05,"v":0.0048},{"k":5,"w":3058.10,"v":0.0048},{"k":5,"w":3058.23,"v":0.002},{"k":5,"w":3058.32,"v":0.0025},{"k":5,"w":3058.45,"v":0.0008},{"k":5,"w":3058.60,"v":0.0011},{"k":5,"w":3058.74,"v":0.0},{"k":5,"w":3058.89,"v":0.0252},{"k":5,"w":3059.02,"v":0.0},{"k":5,"w":3059.30,"v":0.0005},{"k":5,"w":3059.40,"v":0.002},{"k":5,"w":3059.50,"v":0.0005},{"k":5,"w":3059.72,"v":0.0},{"k":5,"w":3059.80,"v":0.03},{"k":5,"w":3059.89,"v":0.0649},{"k":5,"w":3060.00,"v":0.0227},{"k":5,"w":3060.09,"v":0.019},{"k":5,"w":3060.18,"v":0.0135},{"k":5,"w":3060.28,"v":0.0},{"k":5,"w":3060.50,"v":0.0003},{"k":5,"w":3060.80,"v":0.0005},{"k":5,"w":3061.15,"v":0.0005},{"k":5,"w":3061.31,"v":0.0016},{"k":5,"w":3061.45,"v":0.0003},{"k":5,"w":3062.10,"v":0.0},{"k":5,"w":3062.33,"v":0.0025},{"k":5,"w":3062.45,"v":0.0},{"k":5,"w":3063.50,"v":0.0003},{"k":5,"w":3064.13,"v":0.0},{"k":5,"w":3064.30,"v":0.03},{"k":5,"w":3064.44,"v":0.0725},{"k":5,"w":3064.51,"v":0.072},{"k":5,"w":3064.60,"v":0.035},{"k":5,"w":3064.69,"v":0.004},{"k":5,"w":3064.83,"v":0.0},{"k":5,"w":3065.16,"v":0.0},{"k":5,"w":3065.30,"v":0.002},{"k":5,"w":3065.45,"v":0.0055},{"k":5,"w":3065.53,"v":0.0064},{"k":5,"w":3065.62,"v":0.004},{"k":5,"w":3065.72,"v":0.0},{"k":5,"w":3066.11,"v":0.0},{"k":5,"w":3066.22,"v":0.02},{"k":5,"w":3066.32,"v":0.0451},{"k":5,"w":3066.42,"v":0.02},{"k":5,"w":3066.52,"v":0.0},{"k":5,"w":3066.78,"v":0.0},{"k":5,"w":3066.97,"v":0.0364},{"k":5,"w":3067.07,"v":0.0889},{"k":5,"w":3067.18,"v":0.03},{"k":5,"w":3067.29,"v":0.0},{"k":5,"w":3067.60,"v":0.0},{"k":5,"w":3067.71,"v":0.0011},{"k":5,"w":3067.85,"v":0.0},{"k":5,"w":3069.20,"v":0.0},{"k":5,"w":3069.34,"v":0.002},{"k":5,"w":3069.45,"v":0.0},{"k":5,"w":3070.80,"v":0.0},{"k":5,"w":3070.96,"v":0.0025},{"k":5,"w":3071.10,"v":0.002},{"k":5,"w":3071.29,"v":0.0085},{"k":5,"w":3071.43,"v":0.0076},{"k":5,"w":3071.59,"v":0.0112},{"k":5,"w":3071.71,"v":0.0053},{"k":5,"w":3071.80,"v":0.0},{"k":5,"w":3073.10,"v":0.0},{"k":5,"w":3073.24,"v":0.002},{"k":5,"w":3073.30,"v":0.0027},{"k":5,"w":3073.40,"v":0.001},{"k":5,"w":3073.50,"v":0.0},{"k":5,"w":3073.85,"v":0.0},{"k":5,"w":3073.95,"v":0.0011},{"k":5,"w":3074.05,"v":0.0},{"k":5,"w":3074.45,"v":0.0},{"k":5,"w":3074.55,"v":0.0011},{"k":5,"w":3074.65,"v":0.0},{"k":5,"w":3075.00,"v":0.0},{"k":5,"w":3075.08,"v":0.0008},{"k":5,"w":3075.20,"v":0.0},{"k":5,"w":3075.80,"v":0.0},{"k":5,"w":3075.94,"v":0.003},{"k":5,"w":3075.98,"v":0.004},{"k":5,"w":3076.10,"v":0.002},{"k":5,"w":3076.25,"v":0.0},{"k":5,"w":3076.85,"v":0.0},{"k":5,"w":3076.96,"v":0.0066},{"k":5,"w":3077.05,"v":0.0053},{"k":5,"w":3077.24,"v":0.0071},{"k":5,"w":3077.33,"v":0.0034},{"k":5,"w":3077.47,"v":0.0039},{"k":5,"w":3077.57,"v":0.0},{"k":5,"w":3077.79,"v":0.0},{"k":5,"w":3077.96,"v":0.0429},{"k":5,"w":3078.08,"v":0.0154},{"k":5,"w":3078.17,"v":0.0167},{"k":5,"w":3078.26,"v":0.0135},{"k":5,"w":3078.35,"v":0.0053},{"k":5,"w":3078.45,"v":0.0039},{"k":5,"w":3078.54,"v":0.0057},{"k":5,"w":3078.68,"v":0.0},{"k":5,"w":3078.82,"v":0.0},{"k":5,"w":3078.96,"v":0.0475},

      {"k":6,"w":3056.02,"v":0.0001},{"k":6,"w":3058.50,"v":0.0002},{"k":6,"w":3059.00,"v":0.0004},{"k":6,"w":3059.50,"v":0.0002},{"k":6,"w":3062.00,"v":0.0003},{"k":6,"w":3066.80,"v":0.0003},{"k":6,"w":3068.50,"v":0.0003},{"k":6,"w":3070.00,"v":0.0001},{"k":6,"w":3074.00,"v":0.0002},{"k":6,"w":3078.96,"v":0.0001},

      {"k":7,"w":3056.02,"v":0.0002},{"k":7,"w":3057.55,"v":0.0002},{"k":7,"w":3057.64,"v":0.02},{"k":7,"w":3057.70,"v":0.075},{"k":7,"w":3057.76,"v":0.1005},{"k":7,"w":3057.82,"v":0.065},{"k":7,"w":3057.90,"v":0.01},{"k":7,"w":3057.97,"v":0.001},{"k":7,"w":3058.50,"v":0.0003},{"k":7,"w":3059.15,"v":0.0003},{"k":7,"w":3059.26,"v":0.0027},{"k":7,"w":3059.40,"v":0.0011},{"k":7,"w":3059.52,"v":0.0021},{"k":7,"w":3059.59,"v":0.0021},{"k":7,"w":3059.73,"v":0.0002},{"k":7,"w":3060.90,"v":0.0002},{"k":7,"w":3061.00,"v":0.0008},{"k":7,"w":3061.10,"v":0.0002},{"k":7,"w":3062.95,"v":0.0002},{"k":7,"w":3063.07,"v":0.0025},{"k":7,"w":3063.20,"v":0.0071},{"k":7,"w":3063.35,"v":0.0099},{"k":7,"w":3063.45,"v":0.0075},{"k":7,"w":3063.54,"v":0.0062},{"k":7,"w":3063.68,"v":0.002},{"k":7,"w":3063.80,"v":0.0002},{"k":7,"w":3066.90,"v":0.0002},{"k":7,"w":3067.00,"v":0.0008},{"k":7,"w":3067.10,"v":0.003},{"k":7,"w":3067.16,"v":0.06},{"k":7,"w":3067.24,"v":0.23},{"k":7,"w":3067.33,"v":0.06},{"k":7,"w":3067.42,"v":0.004},{"k":7,"w":3067.50,"v":0.0005},{"k":7,"w":3068.50,"v":0.0002},{"k":7,"w":3069.00,"v":0.0},{"k":7,"w":3069.85,"v":0.0},{"k":7,"w":3070.10,"v":0.0005},{"k":7,"w":3070.55,"v":0.0005},{"k":7,"w":3070.67,"v":0.0082},{"k":7,"w":3070.77,"v":0.001},{"k":7,"w":3071.00,"v":0.0003},{"k":7,"w":3072.40,"v":0.0003},{"k":7,"w":3072.54,"v":0.0014},{"k":7,"w":3072.65,"v":0.0003},{"k":7,"w":3073.80,"v":0.0003},{"k":7,"w":3073.89,"v":0.002},{"k":7,"w":3073.98,"v":0.0003},{"k":7,"w":3076.40,"v":0.0002},{"k":7,"w":3076.50,"v":0.03},{"k":7,"w":3076.56,"v":0.06},{"k":7,"w":3076.63,"v":0.0626},{"k":7,"w":3076.68,"v":0.061},{"k":7,"w":3076.74,"v":0.03},{"k":7,"w":3076.80,"v":0.0005},{"k":7,"w":3078.96,"v":0.0002},

      {"k":8,"w":3056.02,"v":0.0034},{"k":8,"w":3056.10,"v":0.002},{"k":8,"w":3056.19,"v":0.0011},{"k":8,"w":3056.31,"v":0.0034},{"k":8,"w":3056.38,"v":0.0007},{"k":8,"w":3056.56,"v":0.0003},{"k":8,"w":3056.70,"v":0.002},{"k":8,"w":3056.84,"v":0.0062},{"k":8,"w":3056.95,"v":0.0085},{"k":8,"w":3057.04,"v":0.0089},{"k":8,"w":3057.15,"v":0.0124},{"k":8,"w":3057.26,"v":0.0071},{"k":8,"w":3057.35,"v":0.002},{"k":8,"w":3057.49,"v":0.0007},{"k":8,"w":3057.63,"v":0.0011},{"k":8,"w":3057.75,"v":0.0036},{"k":8,"w":3057.82,"v":0.0011},{"k":8,"w":3057.96,"v":0.002},{"k":8,"w":3058.12,"v":0.0103},{"k":8,"w":3058.19,"v":0.008},{"k":8,"w":3058.28,"v":0.0034},{"k":8,"w":3058.40,"v":0.0034},{"k":8,"w":3058.51,"v":0.0149},{"k":8,"w":3058.59,"v":0.0062},{"k":8,"w":3058.65,"v":0.0091},{"k":8,"w":3058.74,"v":0.0078},{"k":8,"w":3058.84,"v":0.0057},{"k":8,"w":3058.98,"v":0.0048},{"k":8,"w":3059.13,"v":0.0062},{"k":8,"w":3059.27,"v":0.0234},{"k":8,"w":3059.35,"v":0.0089},{"k":8,"w":3059.49,"v":0.0044},{"k":8,"w":3059.63,"v":0.0039},{"k":8,"w":3059.79,"v":0.0057},{"k":8,"w":3059.90,"v":0.003},{"k":8,"w":3060.09,"v":0.0042},{"k":8,"w":3060.19,"v":0.0007},{"k":8,"w":3060.32,"v":0.0007},{"k":8,"w":3060.46,"v":0.0071},{"k":8,"w":3060.56,"v":0.0048},{"k":8,"w":3060.65,"v":0.002},{"k":8,"w":3060.74,"v":0.0011},{"k":8,"w":3060.88,"v":0.0002},{"k":8,"w":3060.98,"v":0.0011},{"k":8,"w":3061.09,"v":0.0044},{"k":8,"w":3061.23,"v":0.0516},{"k":8,"w":3061.35,"v":0.0089},{"k":8,"w":3061.49,"v":0.002},{"k":8,"w":3061.60,"v":0.0621},{"k":8,"w":3061.68,"v":0.009},{"k":8,"w":3061.76,"v":0.0},{"k":8,"w":3061.90,"v":0.0005},{"k":8,"w":3061.99,"v":0.0085},{"k":8,"w":3062.06,"v":0.0076},{"k":8,"w":3062.14,"v":0.002},{"k":8,"w":3062.28,"v":0.0027},{"k":8,"w":3062.37,"v":0.0027},{"k":8,"w":3062.46,"v":0.0011},{"k":8,"w":3062.60,"v":0.0002},{"k":8,"w":3062.74,"v":0.002},{"k":8,"w":3062.88,"v":0.0034},{"k":8,"w":3062.97,"v":0.0076},{"k":8,"w":3063.07,"v":0.0099},{"k":8,"w":3063.11,"v":0.008},{"k":8,"w":3063.25,"v":0.0071},{"k":8,"w":3063.35,"v":0.0048},{"k":8,"w":3063.45,"v":0.0044},{"k":8,"w":3063.58,"v":0.0076},{"k":8,"w":3063.68,"v":0.0034},{"k":8,"w":3063.79,"v":0.0011},{"k":8,"w":3063.90,"v":0.0025},{"k":8,"w":3063.98,"v":0.0055},{"k":8,"w":3064.04,"v":0.0034},{"k":8,"w":3064.14,"v":0.0044},{"k":8,"w":3064.23,"v":0.0064},{"k":8,"w":3064.32,"v":0.0057},{"k":8,"w":3064.41,"v":0.008},{"k":8,"w":3064.51,"v":0.0331},{"k":8,"w":3064.58,"v":0.0066},{"k":8,"w":3064.69,"v":0.0048},{"k":8,"w":3064.83,"v":0.002},{"k":8,"w":3064.93,"v":0.0018},{"k":8,"w":3065.02,"v":0.0025},{"k":8,"w":3065.16,"v":0.0039},{"k":8,"w":3065.30,"v":0.0057},{"k":8,"w":3065.44,"v":0.0062},{"k":8,"w":3065.56,"v":0.005},{"k":8,"w":3065.67,"v":0.0034},{"k":8,"w":3065.85,"v":0.002},{"k":8,"w":3066.09,"v":0.0007},{"k":8,"w":3066.23,"v":0.0057},{"k":8,"w":3066.38,"v":0.007},{"k":8,"w":3066.48,"v":0.0163},{"k":8,"w":3066.55,"v":0.0062},{"k":8,"w":3066.64,"v":0.0044},{"k":8,"w":3066.74,"v":0.0053},{"k":8,"w":3066.86,"v":0.0076},{"k":8,"w":3066.95,"v":0.0048},{"k":8,"w":3067.06,"v":0.0062},{"k":8,"w":3067.15,"v":0.0034},{"k":8,"w":3067.34,"v":0.003},{"k":8,"w":3067.48,"v":0.0039},{"k":8,"w":3067.62,"v":0.0112},{"k":8,"w":3067.71,"v":0.0048},{"k":8,"w":3067.85,"v":0.0053},{"k":8,"w":3067.99,"v":0.0088},{"k":8,"w":3068.06,"v":0.0053},{"k":8,"w":3068.18,"v":0.0048},{"k":8,"w":3068.32,"v":0.0053},{"k":8,"w":3068.41,"v":0.004},{"k":8,"w":3068.55,"v":0.0007},{"k":8,"w":3068.69,"v":0.0},{"k":8,"w":3068.83,"v":0.0011},{"k":8,"w":3068.97,"v":0.0048},{"k":8,"w":3069.15,"v":0.0112},{"k":8,"w":3069.23,"v":0.003},{"k":8,"w":3069.31,"v":0.0073},{"k":8,"w":3069.40,"v":0.0057},{"k":8,"w":3069.50,"v":0.002},{"k":8,"w":3069.62,"v":0.0007},{"k":8,"w":3069.74,"v":0.003},{"k":8,"w":3069.85,"v":0.0007},{"k":8,"w":3069.99,"v":0.0044},{"k":8,"w":3070.08,"v":0.03},{"k":8,"w":3070.15,"v":0.0736},{"k":8,"w":3070.22,"v":0.03},{"k":8,"w":3070.31,"v":0.0044},{"k":8,"w":3070.45,"v":0.002},{"k":8,"w":3070.55,"v":0.0007},{"k":8,"w":3070.67,"v":0.0039},{"k":8,"w":3070.75,"v":0.001},{"k":8,"w":3070.87,"v":0.002},{"k":8,"w":3071.06,"v":0.003},{"k":8,"w":3071.20,"v":0.0016},{"k":8,"w":3071.33,"v":0.008},{"k":8,"w":3071.45,"v":0.0188},{"k":8,"w":3071.52,"v":0.0117},{"k":8,"w":3071.62,"v":0.0103},{"k":8,"w":3071.71,"v":0.0057},{"k":8,"w":3071.80,"v":0.0007},{"k":8,"w":3071.89,"v":0.0121},{"k":8,"w":3071.98,"v":0.0044},{"k":8,"w":3072.08,"v":0.0},{"k":8,"w":3072.22,"v":0.0057},{"k":8,"w":3072.32,"v":0.005},{"k":8,"w":3072.45,"v":0.0011},{"k":8,"w":3072.54,"v":0.0},{"k":8,"w":3072.68,"v":0.003},{"k":8,"w":3072.80,"v":0.0053},{"k":8,"w":3072.92,"v":0.0108},{"k":8,"w":3073.04,"v":0.0591},{"k":8,"w":3073.18,"v":0.0108},{"k":8,"w":3073.29,"v":0.0053},{"k":8,"w":3073.38,"v":0.005},{"k":8,"w":3073.52,"v":0.0085},{"k":8,"w":3073.61,"v":0.0034},{"k":8,"w":3073.75,"v":0.0007},{"k":8,"w":3073.89,"v":0.002},{"k":8,"w":3074.01,"v":0.0},{"k":8,"w":3074.12,"v":0.002},{"k":8,"w":3074.26,"v":0.0057},{"k":8,"w":3074.36,"v":0.0057},{"k":8,"w":3074.45,"v":0.0126},{"k":8,"w":3074.57,"v":0.0135},{"k":8,"w":3074.73,"v":0.019},{"k":8,"w":3074.82,"v":0.0108},{"k":8,"w":3074.91,"v":0.003},{"k":8,"w":3075.01,"v":0.0007},{"k":8,"w":3075.15,"v":0.0},{"k":8,"w":3075.29,"v":0.0044},{"k":8,"w":3075.41,"v":0.0181},{"k":8,"w":3075.47,"v":0.0154},{"k":8,"w":3075.56,"v":0.0},{"k":8,"w":3075.80,"v":0.0007},{"k":8,"w":3075.94,"v":0.0062},{"k":8,"w":3076.03,"v":0.0048},{"k":8,"w":3076.12,"v":0.002},{"k":8,"w":3076.24,"v":0.0112},{"k":8,"w":3076.34,"v":0.0108},{"k":8,"w":3076.40,"v":0.0},{"k":8,"w":3076.73,"v":0.0},{"k":8,"w":3076.87,"v":0.003},{"k":8,"w":3077.00,"v":0.0044},{"k":8,"w":3077.14,"v":0.0066},{"k":8,"w":3077.28,"v":0.0062},{"k":8,"w":3077.42,"v":0.0076},{"k":8,"w":3077.56,"v":0.0066},{"k":8,"w":3077.70,"v":0.0103},{"k":8,"w":3077.79,"v":0.0066},{"k":8,"w":3077.89,"v":0.0085},{"k":8,"w":3077.98,"v":0.0062},{"k":8,"w":3078.12,"v":0.0066},{"k":8,"w":3078.26,"v":0.0071},{"k":8,"w":3078.38,"v":0.0108},{"k":8,"w":3078.49,"v":0.0057},{"k":8,"w":3078.63,"v":0.0048},{"k":8,"w":3078.77,"v":0.0034},{"k":8,"w":3078.86,"v":0.0025},{"k":8,"w":3078.96,"v":0.0011}
    ]
  },
  "vconcat": [
    {
      "title": {"text": "psNMF : Endmember spectra", "offset": -16},
      "width": 872,
      "height": 690,
      "data": {"name": "endmembers"},
      "transform": [
        {"lookup": "k", "from": {"data": {"values": [
          {"k": 1, "s": "No1 relevance =48.43%"},
          {"k": 2, "s": "No2 relevance =16.3%"},
          {"k": 3, "s": "No3 relevance =13.08%"},
          {"k": 4, "s": "No4 relevance =12.69%"},
          {"k": 5, "s": "No5 relevance =9.51%"}
        ]}, "key": "k", "fields": ["s"]}}
      ],
      "layer": [
        {
          "mark": {"type": "line", "strokeWidth": 1, "clip": true},
          "encoding": {
            "x": {"field": "w", "type": "quantitative",
              "scale": {"domain": [3056.02, 3080.35], "nice": false, "zero": false},
              "axis": {"orient": "bottom", "values": [3060, 3065, 3070, 3075, 3080], "format": "d", "labelPadding": 22,
                "title": "Wavenumber (cm⁻¹)", "titleX": 435, "titleY": 64, "titleAlign": "center", "titleBaseline": "alphabetic"}},
            "y": {"field": "v", "type": "quantitative",
              "scale": {"domain": [0, 17.42], "nice": false},
              "axis": {"orient": "left", "values": [2, 4, 6, 8, 10, 12, 14, 16], "format": "d", "labelPadding": 19.6,
                "title": "Intensity", "titleX": -44, "titleY": 345, "titleAlign": "center", "titleBaseline": "alphabetic", "titleAngle": -90}},
            "color": {"field": "s", "type": "nominal",
              "scale": {"domain": ["No1 relevance =48.43%", "No2 relevance =16.3%", "No3 relevance =13.08%", "No4 relevance =12.69%", "No5 relevance =9.51%"],
                        "range": ["#0072BD", "#D95319", "#EDB120", "#7E2F8E", "#77AC30"]},
              "legend": {"title": null, "legendX": 572.7, "legendY": 21, "padding": 4.7, "clipHeight": 20, "rowPadding": 3.25, "labelOffset": 7}}
          }
        },
        {
          "transform": [{"filter": "false"}],
          "mark": {"type": "point", "opacity": 0},
          "encoding": {
            "x": {"field": "w", "type": "quantitative",
              "axis": {"orient": "top", "values": [3060, 3065, 3070, 3075, 3080], "labels": false,
                "title": "×10⁻³", "titleX": 0, "titleY": -8, "titleAlign": "left", "titleBaseline": "alphabetic", "titleFontSize": 20}},
            "y": {"field": "v", "type": "quantitative",
              "axis": {"orient": "right", "values": [2, 4, 6, 8, 10, 12, 14, 16], "labels": false, "title": null}}
          }
        }
      ],
      "resolve": {"axis": {"x": "independent", "y": "independent"}}
    },
    {
      "title": {"text": "Theoretical absorbance trough NOMAD", "offset": 7},
      "width": 872,
      "height": 687.5,
      "data": {"name": "absorbance"},
      "transform": [
        {"lookup": "k", "from": {"data": {"values": [
          {"k": 1, "s": "CO₂"},
          {"k": 2, "s": "N₂"},
          {"k": 3, "s": "O₂"},
          {"k": 4, "s": "CO"},
          {"k": 5, "s": "H₂O"},
          {"k": 6, "s": "O₃"},
          {"k": 7, "s": "CH₄"},
          {"k": 8, "s": "Solar x 5"}
        ]}, "key": "k", "fields": ["s"]}}
      ],
      "layer": [
        {
          "mark": {"type": "line", "strokeWidth": 1, "clip": true},
          "encoding": {
            "x": {"field": "w", "type": "quantitative",
              "scale": {"domain": [3056.02, 3080.35], "nice": false, "zero": false},
              "axis": {"orient": "bottom", "values": [3060, 3065, 3070, 3075, 3080], "format": "d", "labelPadding": 22,
                "title": "Wavenumber (cm⁻¹)", "titleX": 435, "titleY": 66.5, "titleAlign": "center", "titleBaseline": "alphabetic"}},
            "y": {"field": "v", "type": "quantitative",
              "scale": {"domain": [0, 0.189], "nice": false},
              "axis": {"orient": "left", "values": [0, 0.02, 0.04, 0.06, 0.08, 0.1, 0.12, 0.14, 0.16, 0.18], "format": ".2~f", "labelPadding": 19.6,
                "title": "Absorbance", "titleX": -59, "titleY": 343.75, "titleAlign": "center", "titleBaseline": "alphabetic", "titleAngle": -90}},
            "color": {"field": "s", "type": "nominal",
              "scale": {"domain": ["CO₂", "N₂", "O₂", "CO", "H₂O", "O₃", "CH₄", "Solar x 5"],
                        "range": ["#0072BD", "#D95319", "#EDB120", "#7E2F8E", "#77AC30", "#4DBEEE", "#A2142F", "#9a9a9a"]},
              "legend": {"title": null, "legendX": 684.7, "legendY": 52.7, "padding": 5.4, "clipHeight": 24, "rowPadding": 5.5, "labelOffset": 6}}
          }
        },
        {
          "transform": [{"filter": "false"}],
          "mark": {"type": "point", "opacity": 0},
          "encoding": {
            "x": {"field": "w", "type": "quantitative",
              "axis": {"orient": "top", "values": [3060, 3065, 3070, 3075, 3080], "labels": false, "title": null}},
            "y": {"field": "v", "type": "quantitative",
              "axis": {"orient": "right", "values": [0, 0.02, 0.04, 0.06, 0.08, 0.1, 0.12, 0.14, 0.16, 0.18], "labels": false, "title": null}}
          }
        }
      ],
      "resolve": {"axis": {"x": "independent", "y": "independent"}}
    }
  ],
  "resolve": {"scale": {"color": "independent", "x": "independent", "y": "independent"}, "legend": {"color": "independent"}}
}
